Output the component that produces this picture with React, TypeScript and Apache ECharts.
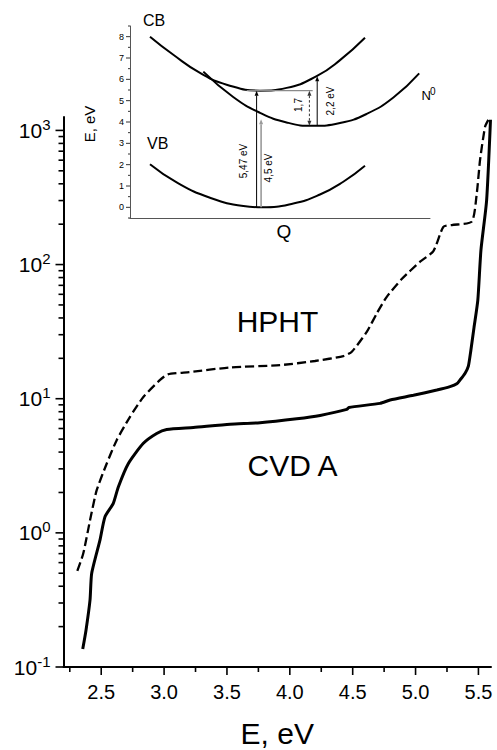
import React, { useEffect, useRef } from "react";
import * as echarts from "echarts";

const FONT = '"Liberation Sans", Arial, Helvetica, sans-serif';

// ---- Main chart data: photon energy (eV) vs signal (log scale) ----
const cvdEnergy = [2.353, 2.379, 2.411, 2.424, 2.49, 2.53, 2.596, 2.636, 2.716, 2.835, 2.941, 3.021, 3.233, 3.525, 3.763, 4.055, 4.241, 4.453, 4.47, 4.718, 4.798, 4.983, 5.169, 5.274, 5.328, 5.354, 5.394, 5.42, 5.44, 5.465, 5.495, 5.52, 5.565, 5.596];
const cvdSignal = [0.136, 0.188, 0.316, 0.498, 0.883, 1.32, 1.66, 2.2, 3.29, 4.65, 5.51, 5.9, 6.11, 6.46, 6.62, 7.08, 7.5, 8.32, 8.61, 9.23, 9.77, 10.6, 11.6, 12.3, 12.9, 13.8, 15.5, 17.5, 23, 34, 54, 128, 300, 1200];

const hphtEnergy = [2.31, 2.357, 2.411, 2.464, 2.544, 2.623, 2.729, 2.835, 2.968, 3.03, 3.2, 3.525, 3.922, 4.2, 4.426, 4.493, 4.612, 4.692, 4.771, 4.89, 5.036, 5.142, 5.221, 5.288, 5.447, 5.487, 5.513, 5.553, 5.579];
const hphtSignal = [0.521, 0.701, 1.24, 2.08, 3.29, 4.91, 7.33, 10.3, 13.8, 15.2, 15.8, 17.1, 17.8, 19.1, 20.8, 22.4, 31.5, 43.3, 57.5, 78, 105, 126, 191, 197, 209, 340, 603, 1067, 1197];

const xMajorTicks = [2.5, 3.0, 3.5, 4.0, 4.5, 5.0, 5.5];
const xMinorTicks = [2.25, 2.75, 3.25, 3.75, 4.25, 4.75, 5.25];
const yDecadeExponents = [-1, 0, 1, 2, 3];
const yMinorMultipliers = [2, 3, 4, 5, 6, 7, 8, 9];
const seriesLabels = ["HPHT", "CVD A"];

// ---- Inset: configuration-coordinate diagram ----
const cbQ = [0.667, 1.444, 2.333, 3.222, 4.333, 5.222, 6.222, 7.0, 7.833];
const cbE = [8.0, 7.15, 6.3, 5.75, 5.47, 5.6, 6.15, 6.9, 7.95];
const n0Q = [2.444, 3.44, 4.333, 5.22, 6.11, 7.0, 7.89, 8.78, 9.64];
const n0E = [6.36, 5.17, 4.43, 3.98, 3.82, 3.95, 4.38, 5.15, 6.28];
const vbQ = [0.667, 1.556, 2.667, 3.778, 4.4, 5.444, 6.333, 7.11, 7.833];
const vbE = [2.02, 1.17, 0.45, 0.06, 0, 0.18, 0.6, 1.2, 1.95];
const insetMajorTicks = [0, 1, 2, 3, 4, 5, 6, 7, 8];
const insetMinorTicks = [-0.5, 0.5, 1.5, 2.5, 3.5, 4.5, 5.5, 6.5, 7.5, 8.5];
// transitions: Q position, start energy, end energy, kind
const arrowQ = [4.22, 4.37, 5.98, 6.24];
const arrowFrom = [0, 0, 5.47, 3.83];
const arrowTo = [5.47, 4.13, 3.83, 6.15];
const arrowKind = ["black", "gray", "dashed", "black"];
const levelLineE = 5.47;
const levelLineQ = [3.89, 6.09];

const X_MIN = 2.2, X_MAX = 5.6;
const Y_MIN = -1, Y_MAX = 3.1;
const IQ_MIN = 0, IQ_MAX = 10;
const IE_MIN = -0.5, IE_MAX = 8.5;

function seg(x1: number, y1: number, x2: number, y2: number, stroke: string, lineWidth: number, lineDash?: number[]) {
  return { type: "line", shape: { x1, y1, x2, y2 }, style: { stroke, lineWidth, lineDash: lineDash || null } };
}
function txt(text: string, x: number, y: number, size: number, align: string) {
  return {
    type: "text", x, y,
    style: { text, fill: "#000", font: `${size}px ${FONT}`, align, verticalAlign: "middle", textAlign: align, textVerticalAlign: "middle" },
  };
}

function mainDecor(_params: any, api: any) {
  const ch: any[] = [];
  const origin = api.coord([X_MIN, Y_MIN]);
  const ax = origin[0], ay = origin[1];
  xMajorTicks.forEach((v) => {
    const x = api.coord([v, Y_MIN])[0];
    ch.push(seg(x, ay, x, ay + 8, "#000", 1.6));
    ch.push(txt(v.toFixed(1), x, ay + 25, 20, "center"));
  });
  xMinorTicks.forEach((v) => {
    const x = api.coord([v, Y_MIN])[0];
    ch.push(seg(x, ay, x, ay + 5, "#000", 1.6));
  });
  yDecadeExponents.forEach((d) => {
    const y = api.coord([X_MIN, d])[1];
    ch.push(seg(ax - 8, y, ax, y, "#000", 1.6));
    if (d < 3) {
      yMinorMultipliers.forEach((k) => {
        const ym = api.coord([X_MIN, d + Math.log10(k)])[1];
        ch.push(seg(ax - 5, ym, ax, ym, "#000", 1.6));
      });
    }
  });
  return { type: "group", children: ch };
}

function insetDecor(_params: any, api: any) {
  const ch: any[] = [];
  const ax = api.coord([IQ_MIN, 0])[0];
  insetMajorTicks.forEach((v) => {
    const y = api.coord([IQ_MIN, v])[1];
    ch.push(seg(ax - 4, y, ax, y, "#333", 1));
    ch.push(txt(String(v), ax - 6, y, 9, "right"));
  });
  insetMinorTicks.forEach((v) => {
    const y = api.coord([IQ_MIN, v])[1];
    ch.push(seg(ax - 2, y, ax, y, "#333", 1));
  });
  // level line
  const l1 = api.coord([levelLineQ[0], levelLineE]);
  const l2 = api.coord([levelLineQ[1], levelLineE]);
  ch.push(seg(l1[0], l1[1], l2[0], l2[1], "#8a8a8a", 1.2));
  // arrows
  arrowQ.forEach((q, i) => {
    const p1 = api.coord([q, arrowFrom[i]]);
    const p2 = api.coord([q, arrowTo[i]]);
    const kind = arrowKind[i];
    const color = kind === "gray" ? "#9a9a9a" : kind === "dashed" ? "#333" : "#000";
    const lw = kind === "gray" ? 1.6 : 1;
    const dir = p2[1] > p1[1] ? 1 : -1;
    const hl = 5, hw = 2;
    const both = kind === "dashed";
    const yStart = both ? p1[1] + dir * hl : p1[1];
    const yEnd = p2[1] - dir * hl;
    ch.push(seg(p1[0], yStart, p2[0], yEnd, color, lw, kind === "dashed" ? [2.5, 2] : undefined));
    ch.push({ type: "polygon", shape: { points: [[p2[0], p2[1]], [p2[0] - hw, p2[1] - dir * hl], [p2[0] + hw, p2[1] - dir * hl]] }, style: { fill: color } });
    if (both) {
      ch.push({ type: "polygon", shape: { points: [[p1[0], p1[1]], [p1[0] - hw, p1[1] + dir * hl], [p1[0] + hw, p1[1] + dir * hl]] }, style: { fill: color } });
    }
  });
  return { type: "group", children: ch };
}

function gtext(text: string, x: number, y: number, size: number, align = "left", rotation = 0) {
  return {
    type: "text", x, y, rotation,
    style: { text, fill: "#000", font: `${size}px ${FONT}`, textAlign: align, textVerticalAlign: "middle", align, verticalAlign: "middle" },
  };
}

const option: any = {
  animation: false,
  backgroundColor: "#fff",
  grid: [
    { left: 63.5, top: 117, right: 6, bottom: 83 },
    { left: 130, top: 26, width: 300, height: 192 },
  ],
  xAxis: [
    {
      type: "value", gridIndex: 0, min: X_MIN, max: X_MAX,
      axisLine: { show: true, onZero: false, lineStyle: { color: "#000", width: 2 } },
      axisTick: { show: false }, axisLabel: { show: false }, splitLine: { show: false },
    },
    {
      type: "value", gridIndex: 1, min: IQ_MIN, max: IQ_MAX,
      axisLine: { show: true, onZero: false, lineStyle: { color: "#555", width: 1 } },
      axisTick: { show: false }, axisLabel: { show: false }, splitLine: { show: false },
    },
  ],
  yAxis: [
    {
      type: "value", gridIndex: 0, min: Y_MIN, max: Y_MAX, interval: 1,
      axisLine: { show: true, onZero: false, lineStyle: { color: "#000", width: 2 } },
      axisTick: { show: false }, splitLine: { show: false },
      axisLabel: {
        show: true, margin: 13, showMaxLabel: false,
        formatter: (v: number) => {
          const r = Math.round(v);
          if (Math.abs(v - r) > 1e-6 || !yDecadeExponents.includes(r)) return "";
          return `{b|10}{s|${r}}`;
        },
        rich: {
          b: { fontSize: 21, lineHeight: 27, fontFamily: FONT, color: "#000" },
          s: { fontSize: 15, lineHeight: 15, fontFamily: FONT, color: "#000", verticalAlign: "top" },
        },
      },
    },
    {
      type: "value", gridIndex: 1, min: IE_MIN, max: IE_MAX,
      axisLine: { show: true, onZero: false, lineStyle: { color: "#555", width: 1 } },
      axisTick: { show: false }, axisLabel: { show: false }, splitLine: { show: false },
    },
  ],
  series: [
    {
      type: "line", xAxisIndex: 0, yAxisIndex: 0, showSymbol: false, smooth: 0.2,
      data: hphtEnergy.map((e, i) => [e, Math.log10(hphtSignal[i])]),
      lineStyle: { color: "#000", width: 2.3, type: [9, 4] },
    },
    {
      type: "line", xAxisIndex: 0, yAxisIndex: 0, showSymbol: false, smooth: 0.2,
      data: cvdEnergy.map((e, i) => [e, Math.log10(cvdSignal[i])]),
      lineStyle: { color: "#000", width: 3 },
    },
    {
      type: "line", xAxisIndex: 1, yAxisIndex: 1, showSymbol: false, smooth: true,
      data: cbQ.map((q, i) => [q, cbE[i]]), lineStyle: { color: "#000", width: 2 },
    },
    {
      type: "line", xAxisIndex: 1, yAxisIndex: 1, showSymbol: false, smooth: true,
      data: n0Q.map((q, i) => [q, n0E[i]]), lineStyle: { color: "#000", width: 2 },
    },
    {
      type: "line", xAxisIndex: 1, yAxisIndex: 1, showSymbol: false, smooth: true,
      data: vbQ.map((q, i) => [q, vbE[i]]), lineStyle: { color: "#000", width: 2 },
    },
    {
      type: "custom", xAxisIndex: 0, yAxisIndex: 0, clip: false, silent: true,
      data: [[X_MIN, Y_MIN]], renderItem: mainDecor, z: 5,
    },
    {
      type: "custom", xAxisIndex: 1, yAxisIndex: 1, clip: false, silent: true,
      data: [[IQ_MIN, 0]], renderItem: insetDecor, z: 5,
    },
  ],
  graphic: [
    gtext("E, eV", 277.3, 733, 30, "center"),
    gtext(seriesLabels[0], 277.5, 321, 30, "center"),
    gtext(seriesLabels[1], 292.5, 465, 30, "center"),
    gtext("CB", 143, 20, 16),
    gtext("VB", 147, 143, 16),
    gtext("N", 421.5, 95.5, 13),
    gtext("0", 430, 91.5, 10),
    gtext("Q", 284, 231, 19, "center"),
    gtext("E, eV", 89, 124, 15, "center", Math.PI / 2),
    gtext("5,47 eV", 243.5, 161, 10, "center", Math.PI / 2),
    gtext("4,5 eV", 268, 168, 10, "center", Math.PI / 2),
    gtext("1,7", 298.5, 105, 10, "center", Math.PI / 2),
    gtext("2,2 eV", 330, 101, 10, "center", Math.PI / 2),
  ],
};

export default function App() {
  const ref = useRef<HTMLDivElement>(null);
  useEffect(() => {
    document.body.style.margin = "0";
    const chart = echarts.init(ref.current as HTMLDivElement, null, { renderer: "svg" });
    chart.setOption(option);
    return () => chart.dispose();
  }, []);
  return <div ref={ref} style={{ width: 497, height: 750 }} />;
}
